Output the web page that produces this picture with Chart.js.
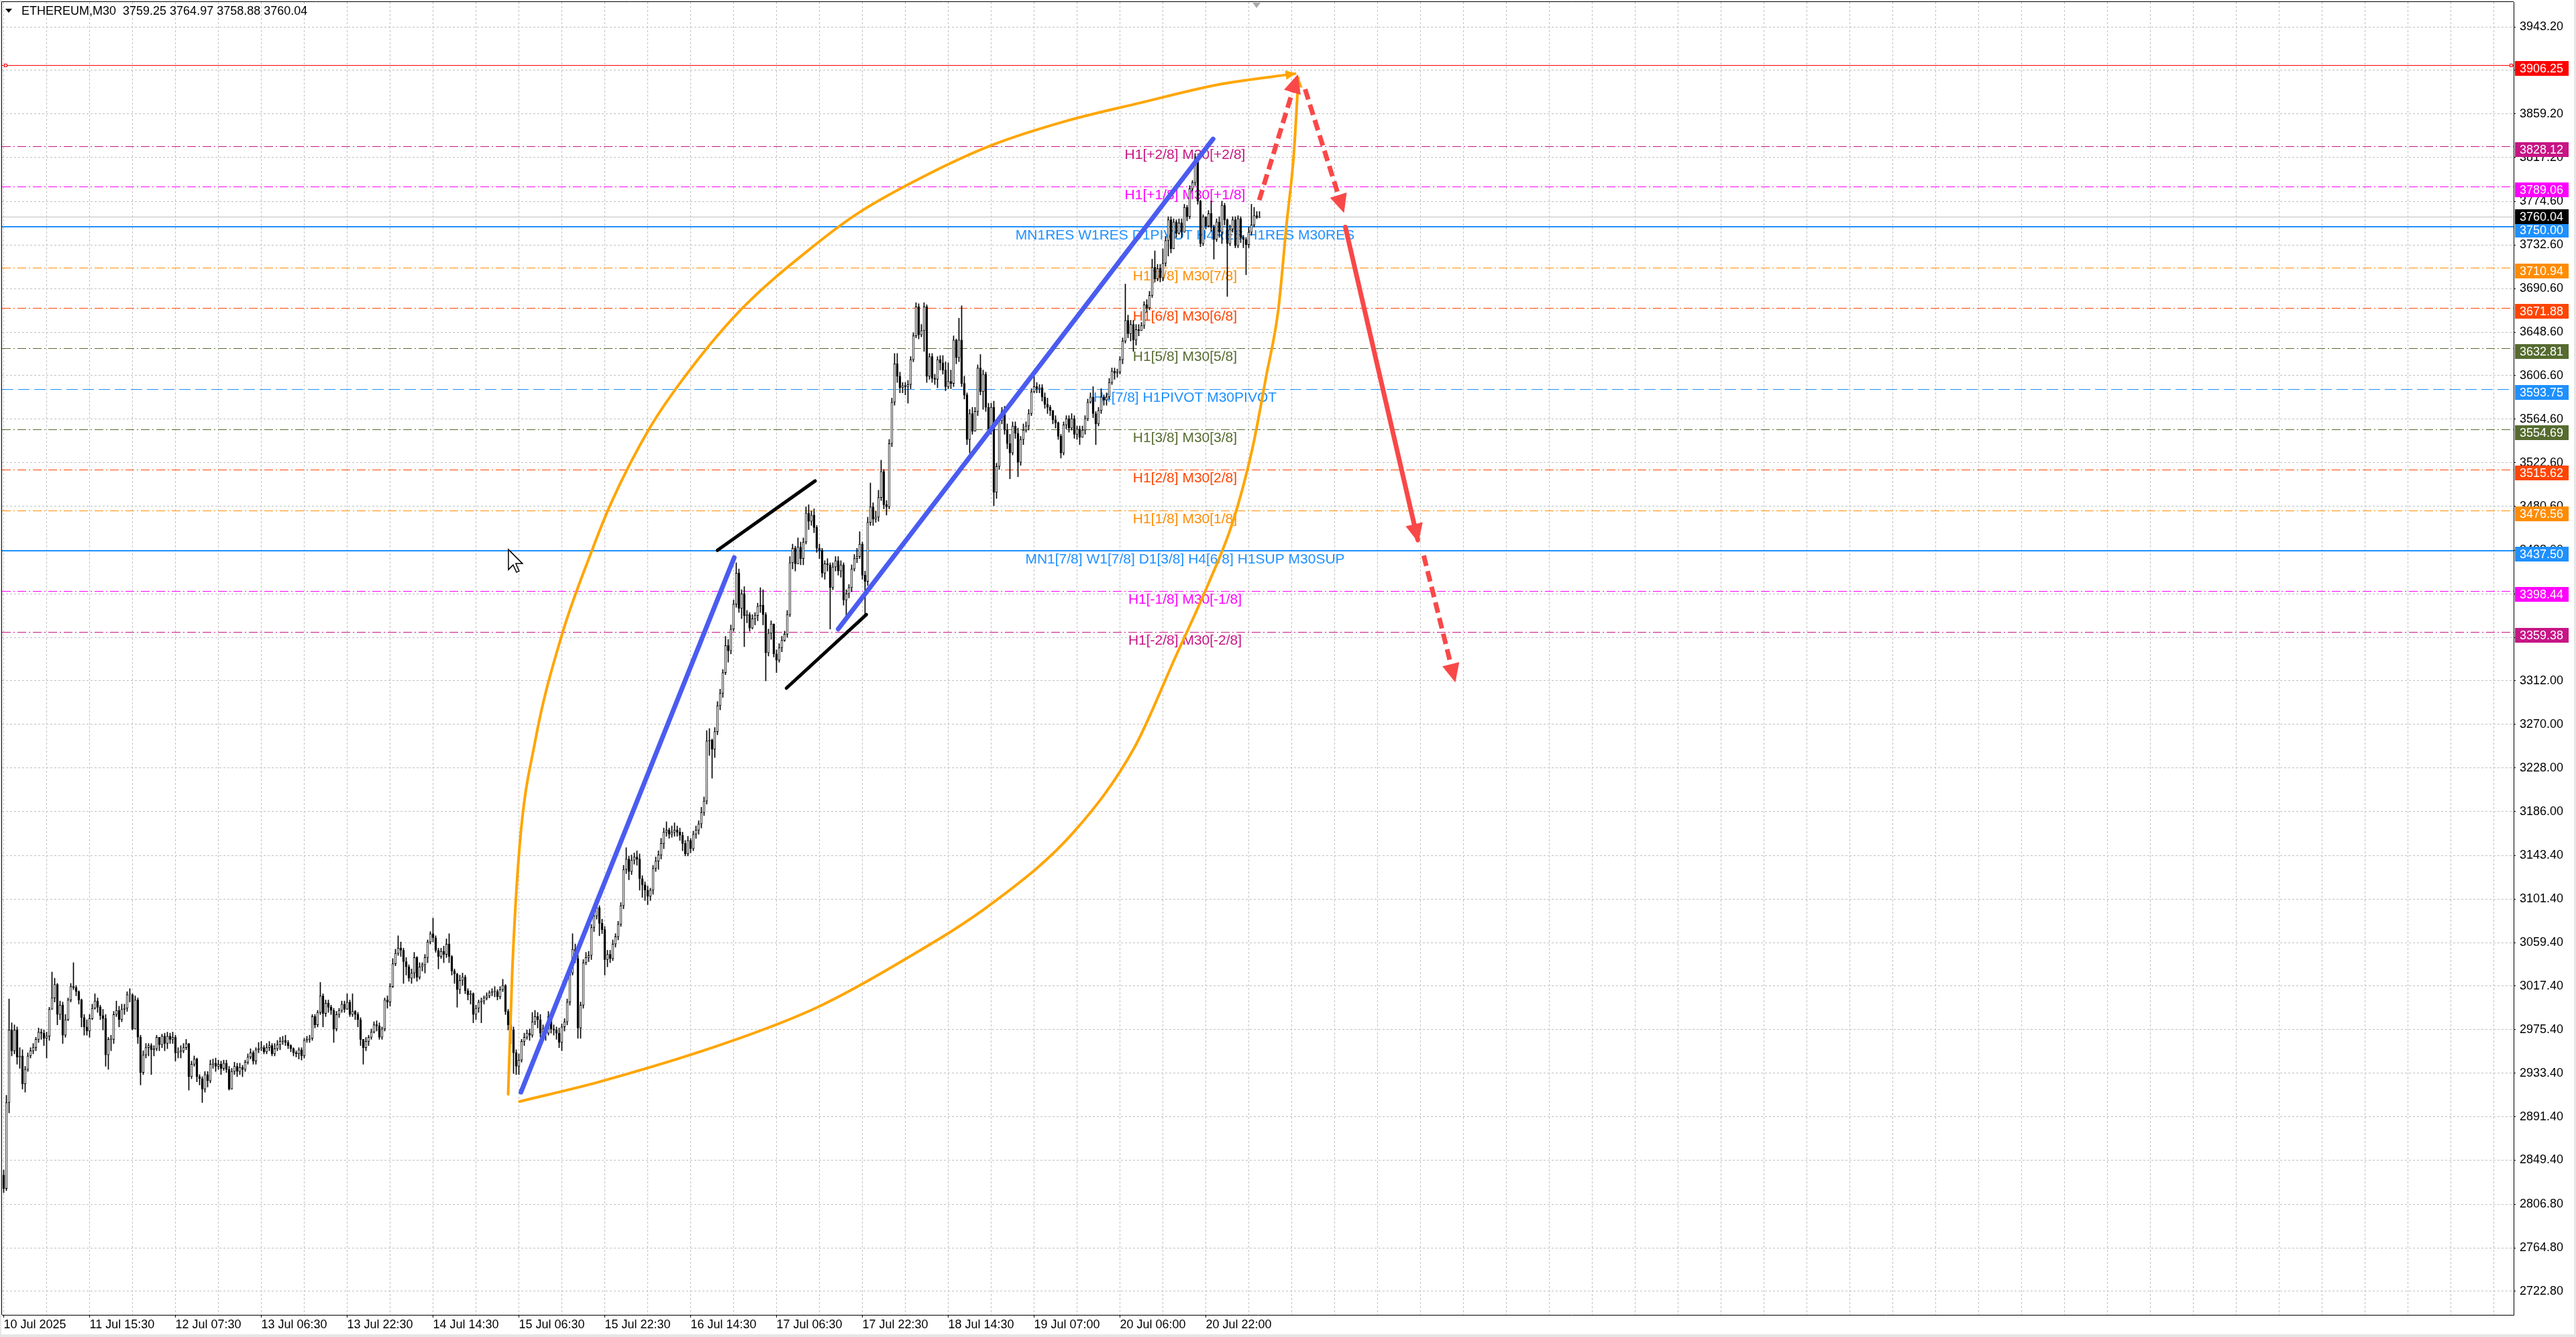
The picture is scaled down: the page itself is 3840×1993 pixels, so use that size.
<!DOCTYPE html>
<html>
<head>
<meta charset="utf-8">
<title>ETHEREUM,M30</title>
<script src="https://cdn.jsdelivr.net/npm/chart.js@4.4.1/dist/chart.umd.min.js"></script>
<style>
html,body{margin:0;padding:0;background:#fff;}
canvas{display:block;}
</style>
</head>
<body>
<canvas id="chart" width="3840" height="1993"></canvas>
<script>
// ---- data (one value per bar, 30 min each) ----
var symbolTitle = "ETHEREUM,M30  3759.25 3764.97 3758.88 3760.04";
var firstOpen = 2835;

var closes = [
 2822,2905,2975,2955,2975,2949,2950,2923,2937,2950,
 2955,2958,2966,2973,2972,2967,2969,2995,3006,3019,
 2990,2999,2970,2985,3004,3017,3016,3012,3004,2987,
 2978,2974,2986,2996,3003,2997,2989,2986,2951,2966,
 2966,2990,2994,2985,2995,2996,3009,3009,2976,3004,
 2968,2934,2951,2958,2960,2956,2957,2968,2961,2969,
 2962,2969,2966,2968,2953,2954,2955,2958,2962,2930,
 2942,2947,2930,2928,2918,2932,2926,2942,2943,2940,
 2942,2938,2943,2937,2918,2935,2940,2935,2939,2937,
 2944,2949,2953,2945,2956,2957,2958,2954,2958,2960,
 2952,2957,2961,2964,2965,2963,2960,2957,2953,2952,
 2956,2950,2965,2966,2967,2988,2980,2992,3008,2991,
 3001,2997,2994,2976,2990,2994,3000,2995,3002,2990,
 2993,2990,2985,2966,2958,2964,2968,2973,2980,2979,
 2968,2976,3004,3002,3017,3039,3049,3054,3052,3041,
 3036,3025,3030,3045,3026,3036,3038,3045,3060,3068,
 3064,3052,3046,3051,3048,3058,3046,3032,3029,3014,
 3023,3026,3013,3009,3010,2990,2996,3002,3003,3006,
 3008,3011,3012,3012,3007,3014,3018,2993,2980,2975,
 2953,2940,2946,2964,2968,2972,2970,2983,2988,2985,
 2972,2976,2972,2988,2976,2975,2972,2963,2978,2983,
 3002,3030,3053,3044,2977,2999,3040,3045,3047,3074,
 3085,3093,3078,3072,3043,3048,3044,3058,3065,3077,
 3095,3130,3140,3128,3139,3142,3140,3121,3115,3110,
 3104,3110,3131,3138,3144,3155,3166,3168,3164,3166,
 3168,3166,3163,3155,3145,3158,3150,3164,3168,3174,
 3185,3196,3254,3255,3246,3263,3288,3300,3320,3346,
 3341,3362,3386,3416,3382,3396,3375,3376,3363,3372,
 3375,3384,3385,3376,3339,3358,3367,3338,3332,3344,
 3351,3357,3376,3426,3440,3425,3441,3430,3446,3474,
 3466,3472,3460,3440,3438,3416,3425,3424,3402,3422,
 3428,3418,3424,3390,3396,3402,3420,3430,3432,3444,
 3414,3408,3465,3480,3468,3470,3489,3514,3482,3480,
 3541,3581,3618,3606,3595,3597,3596,3598,3622,3645,
 3673,3646,3650,3673,3606,3625,3604,3603,3622,3619,
 3612,3596,3601,3599,3641,3624,3641,3599,3588,3545,
 3570,3553,3572,3614,3591,3608,3576,3553,3576,3494,
 3519,3563,3572,3554,3541,3532,3558,3551,3523,3545,
 3554,3558,3570,3591,3596,3594,3595,3586,3579,3576,
 3573,3564,3561,3548,3532,3559,3565,3556,3565,3550,
 3555,3547,3554,3565,3581,3586,3570,3560,3573,3586,
 3583,3586,3600,3611,3609,3610,3622,3640,3660,3647,
 3656,3641,3651,3650,3655,3675,3672,3684,3711,3700,
 3710,3701,3715,3737,3757,3729,3755,3744,3754,3745,
 3769,3760,3787,3793,3816,3775,3734,3760,3751,3763,
 3750,3738,3755,3745,3771,3757,3734,3748,3757,3732,
 3758,3740,3738,3733,3745,3752,3761,3759.25,3760.04
];

var highs = [
 2840,2912,3005,2982,2980,2978,2958,2956,2940,2953,
 2958,2962,2968,2977,2976,2975,2973,2997,3031,3025,
 3020,3003,3002,2990,3006,3020,3040,3018,3013,3005,
 2990,2985,2990,3000,3010,3006,2999,2995,2990,2968,
 2970,2993,3003,2998,3000,3000,3012,3015,3010,3008,
 3006,2970,2955,2962,2962,2962,2960,2970,2968,2971,
 2972,2973,2972,2973,2970,2958,2960,2962,2966,2946,
 2945,2950,2948,2932,2930,2935,2935,2946,2947,2948,
 2946,2945,2946,2946,2940,2938,2944,2943,2943,2941,
 2946,2952,2957,2955,2958,2963,2964,2960,2962,2964,
 2962,2962,2965,2968,2969,2970,2965,2961,2958,2955,
 2958,2958,2967,2969,2970,2990,2990,2994,3021,3010,
 3004,3004,2999,2996,2993,2996,3003,3003,3010,3004,
 3010,2994,2992,2987,2966,2968,2970,2976,2983,2984,
 2982,2978,3006,3008,3020,3044,3053,3066,3060,3054,
 3045,3038,3034,3050,3046,3040,3040,3048,3062,3070,
 3083,3066,3054,3054,3056,3063,3068,3047,3034,3030,
 3028,3030,3028,3015,3013,3011,2999,3004,3006,3008,
 3011,3013,3015,3017,3014,3017,3024,3019,2995,2983,
 2978,2956,2952,2966,2972,2975,2976,2992,2994,2992,
 2990,2980,2979,2993,2990,2980,2978,2977,2981,2986,
 3005,3033,3068,3058,3048,3002,3043,3050,3051,3077,
 3090,3100,3095,3082,3075,3052,3052,3062,3068,3080,
 3098,3134,3151,3143,3144,3146,3148,3145,3124,3118,
 3114,3112,3134,3142,3148,3160,3170,3176,3170,3172,
 3175,3172,3170,3166,3158,3162,3160,3167,3172,3177,
 3190,3200,3264,3266,3256,3267,3292,3304,3323,3355,
 3352,3366,3390,3426,3420,3400,3403,3380,3378,3376,
 3378,3387,3402,3400,3378,3362,3370,3366,3342,3348,
 3355,3360,3380,3432,3444,3442,3450,3446,3450,3480,
 3482,3476,3478,3462,3444,3440,3428,3430,3426,3426,
 3432,3432,3428,3426,3400,3405,3424,3434,3440,3456,
 3446,3418,3470,3503,3484,3476,3496,3525,3516,3486,
 3545,3585,3628,3628,3610,3600,3600,3602,3625,3648,
 3677,3676,3656,3677,3675,3628,3628,3608,3625,3626,
 3626,3620,3619,3612,3645,3642,3662,3674,3606,3590,
 3574,3576,3576,3617,3627,3612,3610,3580,3580,3582,
 3522,3566,3576,3577,3560,3550,3562,3562,3556,3548,
 3560,3562,3574,3594,3606,3600,3598,3598,3590,3585,
 3578,3570,3568,3562,3550,3562,3568,3568,3570,3568,
 3558,3558,3558,3568,3584,3590,3596,3572,3576,3594,
 3588,3590,3604,3614,3614,3613,3625,3643,3695,3665,
 3660,3660,3656,3656,3658,3678,3680,3688,3719,3727,
 3714,3714,3729,3741,3760,3760,3758,3757,3758,3758,
 3772,3771,3790,3795,3821,3818,3776,3762,3760,3766,
 3775,3752,3758,3760,3775,3773,3758,3752,3760,3760,
 3761,3760,3742,3740,3750,3772,3769,3765,3764.97
];

var lows = [
 2818,2820,2895,2950,2952,2942,2938,2918,2915,2935,
 2948,2952,2955,2963,2966,2960,2948,2965,2995,3002,
 2980,2985,2962,2968,2984,3002,3014,3008,3000,2978,
 2970,2970,2968,2985,2995,2992,2985,2975,2940,2937,
 2955,2962,2988,2978,2983,2990,2993,3002,2975,2976,
 2962,2922,2932,2948,2950,2932,2950,2955,2955,2958,
 2955,2957,2962,2962,2945,2948,2948,2953,2956,2917,
 2928,2940,2925,2922,2905,2915,2920,2924,2938,2935,
 2937,2932,2936,2934,2917,2918,2932,2930,2932,2930,
 2935,2942,2947,2942,2942,2953,2955,2952,2952,2955,
 2950,2950,2955,2956,2961,2960,2957,2954,2950,2949,
 2947,2946,2948,2963,2963,2965,2977,2978,2990,2978,
 2988,2992,2990,2963,2974,2987,2992,2992,2995,2988,
 2988,2985,2978,2960,2942,2955,2960,2966,2972,2974,
 2966,2966,2974,2996,2998,3016,3037,3047,3046,3020,
 3028,3022,3020,3025,3022,3024,3032,3030,3040,3058,
 3060,3050,3034,3044,3040,3045,3040,3028,3020,2997,
 3010,3018,3010,3004,3000,2982,2985,2992,2982,3000,
 3004,3006,3008,3007,3004,3005,3012,2990,2975,2962,
 2933,2932,2932,2944,2960,2966,2965,2968,2980,2977,
 2968,2968,2965,2970,2972,2970,2966,2958,2955,2974,
 2980,2999,3028,3040,2967,2967,2996,3038,3041,3043,
 3070,3082,3066,3068,3028,3036,3040,3042,3055,3062,
 3075,3092,3126,3120,3125,3135,3134,3110,3103,3100,
 3096,3100,3106,3128,3130,3140,3150,3162,3160,3161,
 3162,3162,3158,3148,3143,3143,3146,3148,3160,3164,
 3170,3182,3193,3240,3218,3238,3260,3284,3296,3318,
 3330,3338,3360,3383,3378,3372,3345,3368,3360,3362,
 3366,3370,3378,3366,3312,3336,3352,3335,3320,3330,
 3340,3350,3354,3374,3420,3418,3432,3424,3424,3444,
 3458,3462,3455,3436,3430,3412,3410,3418,3362,3400,
 3418,3414,3412,3385,3375,3392,3398,3418,3426,3430,
 3410,3375,3404,3462,3462,3465,3466,3486,3478,3472,
 3478,3538,3578,3600,3590,3590,3588,3580,3594,3620,
 3643,3642,3644,3630,3600,3603,3600,3598,3595,3612,
 3608,3592,3594,3594,3596,3618,3620,3596,3584,3540,
 3532,3550,3560,3568,3588,3574,3572,3550,3550,3481,
 3488,3516,3560,3550,3536,3507,3530,3546,3509,3520,
 3540,3552,3554,3568,3590,3590,3590,3582,3575,3570,
 3568,3560,3556,3545,3527,3530,3555,3552,3554,3546,
 3545,3540,3548,3550,3563,3580,3566,3540,3558,3570,
 3578,3578,3584,3598,3603,3605,3608,3618,3638,3643,
 3640,3630,3636,3645,3650,3652,3668,3670,3682,3697,
 3698,3697,3698,3712,3722,3725,3738,3740,3743,3740,
 3746,3756,3758,3785,3790,3772,3731,3732,3748,3750,
 3746,3719,3736,3740,3734,3752,3683,3732,3745,3730,
 3730,3735,3730,3704,3730,3742,3750,3758,3758.88
];

// time labels, one every 32 bars
var timeLabels = ["10 Jul 2025","11 Jul 15:30","12 Jul 07:30","13 Jul 06:30","13 Jul 22:30",
  "14 Jul 14:30","15 Jul 06:30","15 Jul 22:30","16 Jul 14:30","17 Jul 06:30","17 Jul 22:30",
  "18 Jul 14:30","19 Jul 07:00","20 Jul 06:00","20 Jul 22:00"];

// price scale tick labels
var priceTicks = [3943.2,3901.2,3859.2,3817.2,3774.6,3732.6,3690.6,3648.6,3606.6,3564.6,3522.6,
  3480.6,3438.0,3396.0,3354.0,3312.0,3270.0,3228.0,3186.0,3143.4,3101.4,3059.4,3017.4,2975.4,
  2933.4,2891.4,2849.4,2806.8,2764.8,2722.8];

// horizontal levels (Murrey math style)
var levelPrices = [3906.25,3828.12,3789.06,3750.00,3710.94,3671.88,3632.81,3593.75,3554.69,
  3515.62,3476.56,3437.50,3398.44,3359.38];
var levelNames = ["","H1[+2/8] M30[+2/8]","H1[+1/8] M30[+1/8]",
  "MN1RES W1RES D1PIVOT H4RES H1RES M30RES","H1[7/8] M30[7/8]","H1[6/8] M30[6/8]",
  "H1[5/8] M30[5/8]","H4[7/8] H1PIVOT M30PIVOT","H1[3/8] M30[3/8]","H1[2/8] M30[2/8]",
  "H1[1/8] M30[1/8]","MN1[7/8] W1[7/8] D1[3/8] H4[6/8] H1SUP M30SUP","H1[-1/8] M30[-1/8]",
  "H1[-2/8] M30[-2/8]"];

// hand drawn objects, [bar, price]
var upperArc = [[188,2913],[189.5,3030],[192.25,3152],[198,3253],[207.75,3354],[219.25,3438],
  [226.25,3483],[240.75,3556],[255.4,3611],[275.4,3672],[302,3732],[318.75,3764],[343.75,3800],
  [368.25,3829],[395.5,3852],[423.75,3870],[453.75,3888],[481.25,3898]];
var lowerArc = [[192.2,2906],[222,2925],[269.75,2963],[303.25,2997],[333.75,3040],[368.75,3098],
  [398.75,3166],[421.25,3247],[436.5,3334],[449,3406],[458,3465],[465.25,3535],[470.5,3606],
  [475,3670],[478.1,3753],[480.75,3819],[482.5,3894]];
var blueTrend1 = [[192.75,2915],[272.25,3431]];
var blueTrend2 = [[311,3362],[450.7,3835]];
var channelTop = [[266,3438],[302.4,3505]];
var channelBottom = [[291.7,3305],[321.5,3376]];
var redPath1 = [[467.9,3776],[482,3895]];
var redPath2 = [[485,3883],[499.2,3766]];
var redPath3 = [[500,3750],[527,3448]];
var redPath4 = [[529.2,3433],[540.75,3313]];

// ---- styles ----
var FONT = '"Liberation Sans", Arial, sans-serif';
var xMin = -0.625, xMax = 935.375;   // 4 px per bar
var yMin = 2700.1, yMax = 3967.2;
var dd = [13, 4, 2, 4], dsh = [17, 7];
var levelColors = ['#ff0000','#c71585','#ff00ff','#1e90ff','#ff8c00','#ff4500','#556b2f',
  '#1e90ff','#556b2f','#ff4500','#ff8c00','#1e90ff','#ff00ff','#c71585'];
var levelDash = [[],dd,dd,[],dd,dd,dd,dsh,dd,dd,dd,[],dd,dd];
var levelWidth = [1,1,1,2,1,1,1,1,1,1,1,2,1,1];
var levelTextBar = 440.25;
var ORANGE = '#ffa500', BLUE = '#4a5cf0', RED = '#f94848';

var opens = closes.map(function (c, i) { return i === 0 ? firstOpen : closes[i - 1]; });
var bidPrice = closes[closes.length - 1];

var bodyData = closes.map(function (c, i) { return { x: i, y: [opens[i], c] }; });
var wickData = closes.map(function (c, i) {
  return { x: i, y: [Math.min(lows[i], opens[i], c), Math.max(highs[i], opens[i], c)] };
});

function pts(a) { return a.map(function (p) { return { x: p[0], y: p[1] }; }); }
function drawing(a, color, width, dash, head, curve) {
  var ds = {
    type: 'line', data: pts(a), borderColor: color, borderWidth: width,
    borderDash: dash || [], borderCapStyle: dash ? 'butt' : 'round', pointRadius: 0,
    fill: false, order: 1, arrowHead: head || null
  };
  if (curve) ds.cubicInterpolationMode = 'monotone';
  return ds;
}

var gridTicks = [];
for (var t = 0; t <= 928; t += 16) gridTicks.push(t);
function labelFor(v) {
  if (v % 32 !== 0) return '';
  return timeLabels[v / 32] || '';
}

var mt4 = {
  id: 'mt4',
  beforeDraw: function (chart) {
    var ctx = chart.ctx;
    ctx.save();
    ctx.fillStyle = '#fff';
    ctx.fillRect(0, 0, chart.width, chart.height);
    ctx.restore();
  },
  beforeDatasetsDraw: function (chart) {
    var ctx = chart.ctx, a = chart.chartArea, xs = chart.scales.x, ys = chart.scales.y;
    ctx.save();
    ctx.beginPath();
    ctx.rect(a.left, a.top, a.right - a.left, a.bottom - a.top);
    ctx.clip();
    levelPrices.forEach(function (p, k) {
      var w = levelWidth[k];
      var y = Math.round(ys.getPixelForValue(p)) + (w % 2 ? 0.5 : 0);
      ctx.beginPath();
      ctx.setLineDash(levelDash[k]);
      ctx.lineWidth = w;
      ctx.strokeStyle = levelColors[k];
      ctx.moveTo(a.left, y);
      ctx.lineTo(a.right, y);
      ctx.stroke();
    });
    // bid line
    var yb = Math.round(ys.getPixelForValue(bidPrice)) + 0.5;
    ctx.beginPath();
    ctx.setLineDash([]);
    ctx.lineWidth = 1;
    ctx.strokeStyle = '#c0c0c0';
    ctx.moveTo(a.left, yb);
    ctx.lineTo(a.right, yb);
    ctx.stroke();
    // level captions
    ctx.font = '21px ' + FONT;
    ctx.textAlign = 'center';
    ctx.textBaseline = 'alphabetic';
    var tx = xs.getPixelForValue(levelTextBar);
    levelPrices.forEach(function (p, k) {
      if (!levelNames[k]) return;
      ctx.fillStyle = levelColors[k];
      ctx.fillText(levelNames[k], tx, ys.getPixelForValue(p) + 19);
    });
    ctx.restore();
  },
  afterDatasetsDraw: function (chart) {
    var ctx = chart.ctx, a = chart.chartArea;
    ctx.save();
    ctx.beginPath();
    ctx.rect(a.left, a.top, a.right - a.left, a.bottom - a.top);
    ctx.clip();
    chart.data.datasets.forEach(function (ds, i) {
      if (!ds.arrowHead) return;
      var el = chart.getDatasetMeta(i).data;
      var p1 = el[el.length - 1], p0 = el[el.length - 2];
      var fx = p0.x, fy = p0.y;
      if (p1.cp1x !== undefined && Math.abs(p1.cp1x - p1.x) + Math.abs(p1.cp1y - p1.y) > 1) {
        fx = p1.cp1x; fy = p1.cp1y;
      }
      var dx = p1.x - fx, dy = p1.y - fy, d = Math.sqrt(dx * dx + dy * dy);
      dx /= d; dy /= d;
      var L = ds.arrowHead[0], W = ds.arrowHead[1], ext = ds.arrowHead[2];
      var tx = p1.x + dx * ext, ty = p1.y + dy * ext;
      var bx = tx - dx * L, by = ty - dy * L;
      ctx.fillStyle = ds.borderColor;
      ctx.beginPath();
      ctx.moveTo(tx, ty);
      ctx.lineTo(bx - dy * W / 2, by + dx * W / 2);
      ctx.lineTo(bx + dy * W / 2, by - dx * W / 2);
      ctx.closePath();
      ctx.fill();
    });
    ctx.restore();
  },
  afterDraw: function (chart) {
    var ctx = chart.ctx, a = chart.chartArea, xs = chart.scales.x, ys = chart.scales.y;
    ctx.save();
    // frame of the terminal window
    ctx.fillStyle = '#e6e6e6';
    ctx.fillRect(chart.width - 3, 0, 3, chart.height);
    ctx.fillRect(0, chart.height - 4, chart.width, 4);
    ctx.fillRect(0, 0, 2, chart.height);
    ctx.strokeStyle = '#000';
    ctx.lineWidth = 1;
    ctx.beginPath();
    ctx.moveTo(a.left - 0.5, a.bottom);
    ctx.lineTo(a.left - 0.5, a.top - 0.5);
    ctx.lineTo(a.right, a.top - 0.5);
    ctx.stroke();

    // small squares at the ends of the red line
    var yr = Math.round(ys.getPixelForValue(levelPrices[0])) + 0.5;
    ctx.strokeStyle = levelColors[0];
    ctx.fillStyle = '#fff';
    [a.left + 3, a.right - 6].forEach(function (sx) {
      ctx.fillRect(sx, yr - 2, 4, 4);
      ctx.strokeRect(sx + 0.5, yr - 2, 4, 4);
    });

    // price boxes on the scale
    ctx.font = '18px ' + FONT;
    ctx.textAlign = 'left';
    ctx.textBaseline = 'middle';
    function box(cy, bg, txt) {
      ctx.fillStyle = bg;
      ctx.fillRect(a.right + 2, Math.round(cy - 11), 80, 22);
      ctx.fillStyle = '#fff';
      ctx.fillText(txt, a.right + 9, cy + 1);
    }
    levelPrices.forEach(function (p, k) {
      box(ys.getPixelForValue(p) + 5, levelColors[k], p.toFixed(2));
    });
    box(ys.getPixelForValue(bidPrice), '#000', bidPrice.toFixed(2));

    // symbol caption
    ctx.fillStyle = '#000';
    ctx.beginPath();
    ctx.moveTo(8, 13); ctx.lineTo(18, 13); ctx.lineTo(13, 19); ctx.closePath();
    ctx.fill();
    ctx.fillText(symbolTitle, 32, 17);

    // chart shift marker
    var sx = xs.getPixelForValue(466.9);
    ctx.fillStyle = '#a8a8a8';
    ctx.beginPath();
    ctx.moveTo(sx - 6, a.top + 1); ctx.lineTo(sx + 6, a.top + 1); ctx.lineTo(sx, a.top + 9);
    ctx.closePath();
    ctx.fill();

    // mouse pointer left on the screenshot
    var cx = xs.getPixelForValue(188.1), cy = ys.getPixelForValue(3438.8);
    ctx.beginPath();
    ctx.moveTo(cx, cy);
    ctx.lineTo(cx, cy + 30);
    ctx.lineTo(cx + 7, cy + 23);
    ctx.lineTo(cx + 12, cy + 34);
    ctx.lineTo(cx + 16, cy + 32);
    ctx.lineTo(cx + 11, cy + 21);
    ctx.lineTo(cx + 21, cy + 21);
    ctx.closePath();
    ctx.fillStyle = '#fff';
    ctx.fill();
    ctx.strokeStyle = '#000';
    ctx.lineWidth = 1.5;
    ctx.stroke();
    ctx.restore();
  }
};

new Chart(document.getElementById('chart'), {
  type: 'bar',
  data: {
    datasets: [
      drawing(blueTrend1, BLUE, 7),
      drawing(blueTrend2, BLUE, 7),
      drawing(channelTop, '#000', 5),
      drawing(channelBottom, '#000', 5),
      drawing(upperArc, ORANGE, 4, null, [16, 14, 2], true),
      drawing(lowerArc, ORANGE, 4, null, [16, 14, 2], true),
      drawing(redPath1, RED, 7, [16, 8], [28, 26, 4]),
      drawing(redPath2, RED, 7, [16, 8], [28, 26, 4]),
      drawing(redPath3, RED, 7, null, [28, 26, 4]),
      drawing(redPath4, RED, 7, [16, 8], [28, 26, 4]),
      {
        type: 'bar', label: 'body', data: bodyData, order: 2,
        barThickness: 3, grouped: false, minBarLength: 1,
        borderWidth: 1, borderSkipped: false, borderColor: '#000',
        backgroundColor: function (c) {
          var i = c.dataIndex;
          return closes[i] >= opens[i] ? '#fff' : '#000';
        }
      },
      {
        type: 'bar', label: 'wick', data: wickData, order: 3,
        barThickness: 1, grouped: false, borderWidth: 0, backgroundColor: '#000'
      }
    ]
  },
  options: {
    responsive: false,
    animation: false,
    devicePixelRatio: 1,
    events: [],
    layout: { padding: { left: 3, top: 3, right: 0, bottom: 0 } },
    plugins: { legend: { display: false }, tooltip: { enabled: false } },
    scales: {
      x: {
        type: 'linear', position: 'bottom', min: xMin, max: xMax, offset: false,
        grid: {
          color: '#c0c0c0', lineWidth: 1, offset: false, drawTicks: true, tickLength: 4,
          tickColor: function (c) { return labelFor(c.tick.value) ? '#000' : 'rgba(0,0,0,0)'; }
        },
        border: { display: true, color: '#000', width: 1, dash: [3, 3] },
        ticks: {
          autoSkip: false, maxRotation: 0, minRotation: 0, align: 'start', padding: 0,
          color: '#000', font: { family: FONT, size: 18 },
          callback: function (v) { return labelFor(v); }
        },
        afterBuildTicks: function (s) { s.ticks = gridTicks.map(function (v) { return { value: v }; }); },
        afterFit: function (s) { s.height = 33; s.paddingLeft = 0; s.paddingRight = 0; }
      },
      y: {
        type: 'linear', position: 'right', min: yMin, max: yMax,
        grid: { color: '#c0c0c0', lineWidth: 1, drawTicks: true, tickLength: 3, tickColor: '#000' },
        border: { display: true, color: '#000', width: 1, dash: [3, 3] },
        ticks: {
          padding: 6, color: '#000', font: { family: FONT, size: 18 },
          callback: function (v) { return Number(v).toFixed(2); }
        },
        afterBuildTicks: function (s) { s.ticks = priceTicks.map(function (v) { return { value: v }; }); },
        afterFit: function (s) { s.width = 93; s.paddingTop = 0; s.paddingBottom = 0; }
      }
    }
  },
  plugins: [mt4]
});
</script>
</body>
</html>
